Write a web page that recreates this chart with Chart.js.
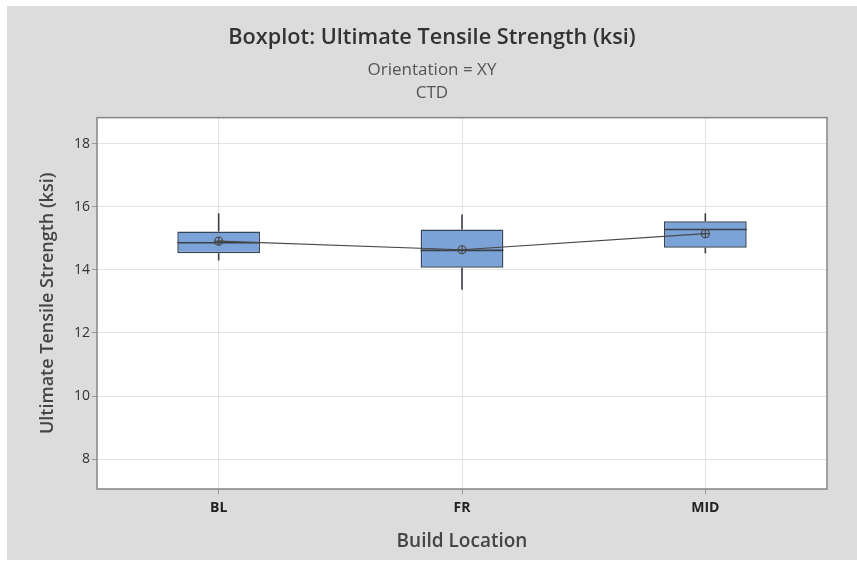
<!DOCTYPE html>
<html>
<head>
<meta charset="utf-8">
<title>Boxplot: Ultimate Tensile Strength (ksi)</title>
<script src="https://cdn.jsdelivr.net/npm/chart.js@4.4.1/dist/chart.umd.min.js"></script>
<style>
  html, body { margin: 0; padding: 0; background: #fff; }
</style>
</head>
<body>
<canvas id="utsChart" width="857" height="569"></canvas>
<script>
// Build locations and their five-number summaries (ksi)
var locations = ['BL', 'FR', 'MID'];
var whiskerLow = [14.30, 13.37, 14.53];
var q1 = [14.53, 14.07, 14.70];
var median = [14.86, 14.62, 15.28];
var q3 = [15.22, 15.28, 15.54];
var whiskerHigh = [15.80, 15.76, 15.80];
var means = [14.91, 14.64, 15.15];

var yTicks = [8, 10, 12, 14, 16, 18];
var yMin = 7.05;
var yMax = 18.83;

var FONT = "'Open Sans', 'Noto Sans', sans-serif";

// grey panel, white plot area and the frame round it
var panelPlugin = {
    id: 'panel',
    beforeDraw: function (chart) {
        var ctx = chart.ctx, a = chart.chartArea;
        ctx.save();
        ctx.fillStyle = '#ffffff';
        ctx.fillRect(0, 0, chart.width, chart.height);
        ctx.fillStyle = '#dcdcdc';
        ctx.fillRect(7, 6, chart.width - 7, 554);
        ctx.fillStyle = '#ffffff';
        ctx.fillRect(a.left, a.top, a.right - a.left, a.bottom - a.top);
        ctx.restore();
    },
    afterDraw: function (chart) {
        var ctx = chart.ctx, a = chart.chartArea;
        ctx.save();
        ctx.strokeStyle = '#858585';
        ctx.lineWidth = 1.5;
        ctx.strokeRect(a.left, a.top, a.right - a.left, a.bottom - a.top);
        ctx.restore();
    }
};

// whiskers and median lines, drawn right after the boxes
var boxPlugin = {
    id: 'boxParts',
    afterDatasetDraw: function (chart, args) {
        if (args.index !== 0) return;
        var ctx = chart.ctx, y = chart.scales.y;
        var bars = chart.getDatasetMeta(0).data;
        ctx.save();
        ctx.strokeStyle = '#3b3f46';
        ctx.lineWidth = 1.6;
        bars.forEach(function (bar, i) {
            var half = bar.width / 2;
            ctx.beginPath();
            ctx.moveTo(bar.x, y.getPixelForValue(q3[i]));
            ctx.lineTo(bar.x, y.getPixelForValue(whiskerHigh[i]));
            ctx.moveTo(bar.x, y.getPixelForValue(q1[i]));
            ctx.lineTo(bar.x, y.getPixelForValue(whiskerLow[i]));
            ctx.stroke();
            ctx.beginPath();
            ctx.moveTo(bar.x - half, y.getPixelForValue(median[i]));
            ctx.lineTo(bar.x + half, y.getPixelForValue(median[i]));
            ctx.stroke();
        });
        ctx.restore();
    }
};

var ctx = document.getElementById('utsChart').getContext('2d');

var chart = new Chart(ctx, {
    type: 'bar',
    data: {
        labels: locations,
        datasets: [
            {
                type: 'bar',
                data: locations.map(function (_, i) { return [q1[i], q3[i]]; }),
                backgroundColor: '#7ba3d8',
                borderColor: '#35465c',
                borderWidth: 1.5,
                borderSkipped: false,
                categoryPercentage: 1,
                barPercentage: 0.34,
                order: 3
            },
            {
                type: 'line',
                data: means,
                borderColor: '#474747',
                borderWidth: 1.2,
                pointStyle: 'circle',
                pointRadius: 4,
                pointBorderWidth: 1.2,
                pointBackgroundColor: 'rgba(0,0,0,0)',
                pointBorderColor: '#474747',
                tension: 0,
                order: 1
            },
            {
                type: 'line',
                data: means,
                showLine: false,
                pointStyle: 'cross',
                pointRadius: 4,
                pointBorderWidth: 1.2,
                pointBorderColor: '#474747',
                order: 0
            }
        ]
    },
    options: {
        responsive: false,
        animation: false,
        layout: { padding: { top: 6, left: 7, right: 0, bottom: 9 } },
        plugins: {
            legend: { display: false },
            tooltip: { enabled: false },
            title: {
                display: true,
                text: 'Boxplot: Ultimate Tensile Strength (ksi)',
                color: '#333333',
                font: { family: FONT, size: 21.7, weight: '600', lineHeight: 1.2 },
                padding: { top: 19, bottom: 0 }
            },
            subtitle: {
                display: true,
                text: ['Orientation = XY', 'CTD'],
                color: '#555555',
                font: { family: FONT, size: 17, weight: 'normal', lineHeight: 1.353 },
                padding: { top: 7.5, bottom: 13.1 }
            }
        },
        scales: {
            x: {
                type: 'category',
                offset: true,
                grid: { offset: false, color: '#e4e4e4', tickColor: '#9a9a9a', tickLength: 5 },
                border: { display: false },
                ticks: { color: '#222222', padding: 6, font: { family: FONT, size: 14, weight: 'bold' } },
                title: {
                    display: true,
                    text: 'Build Location',
                    color: '#444444',
                    font: { family: FONT, size: 19, weight: '600', lineHeight: 1.2 },
                    padding: { top: 0, bottom: 7 }
                },
                afterFit: function (scale) { scale.height = 71; }
            },
            y: {
                type: 'linear',
                min: yMin,
                max: yMax,
                grid: { color: '#e4e4e4', tickColor: '#9a9a9a', tickLength: 5 },
                border: { display: false },
                ticks: { color: '#333333', padding: 2, font: { family: FONT, size: 14 } },
                afterBuildTicks: function (scale) {
                    scale.ticks = yTicks.map(function (v) { return { value: v }; });
                },
                title: {
                    display: true,
                    text: 'Ultimate Tensile Strength (ksi)',
                    color: '#444444',
                    font: { family: FONT, size: 18, weight: '600', lineHeight: 1.2 },
                    padding: { top: 30, bottom: 0 }
                },
                afterFit: function (scale) { scale.width = 90; }
            },
            // empty right-hand margin so the titles centre on the whole panel
            yRight: {
                type: 'linear',
                position: 'right',
                grid: { display: false },
                border: { display: false },
                ticks: { display: false },
                afterFit: function (scale) { scale.width = 30; }
            }
        }
    },
    plugins: [panelPlugin, boxPlugin]
});
</script>
</body>
</html>
